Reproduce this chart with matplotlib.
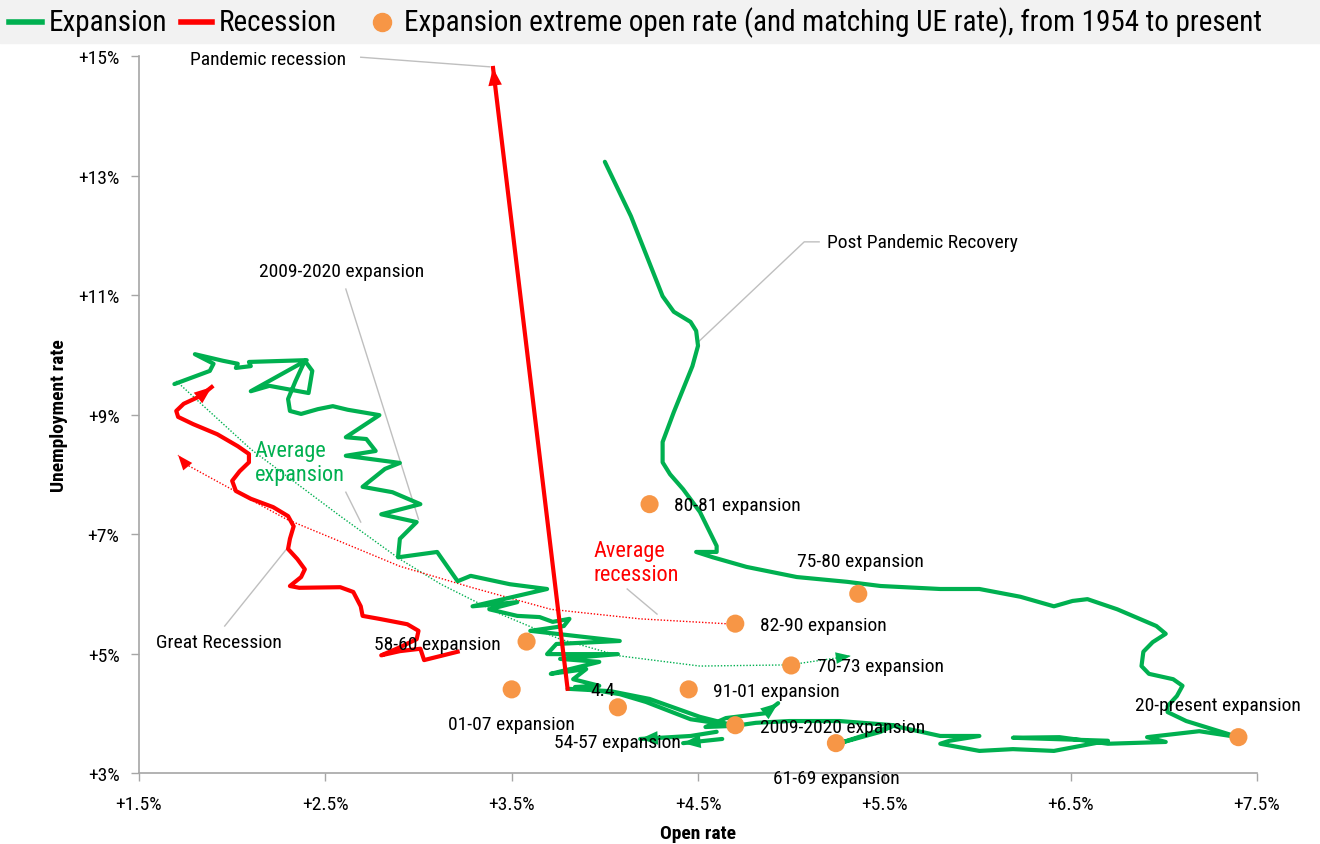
import matplotlib
matplotlib.use("Agg")
import matplotlib.pyplot as plt
from matplotlib import font_manager
from matplotlib.lines import Line2D
from matplotlib.patches import Rectangle


def pick_font(cands):
    for c in cands:
        try:
            font_manager.findfont(font_manager.FontProperties(family=c), fallback_to_default=False)
            return c
        except Exception:
            pass
    return 'DejaVu Sans'


FONT = pick_font(['Roboto Condensed', 'Liberation Sans Narrow', 'Archivo Narrow',
                  'PT Sans Narrow', 'Fira Sans Condensed', 'IBM Plex Sans Condensed',
                  'Barlow Semi Condensed'])
plt.rcParams['font.family'] = [FONT, 'DejaVu Sans']

GREEN = '#00B050'
RED = '#FF0000'
ORANGE = '#F79646'
GREY = '#A6A6A6'

# 2009-2020 expansion (open rate, unemployment rate)
exp09_open = [1.69, 1.88, 1.90, 1.80, 1.95, 2.03, 2.02, 2.10, 2.09, 2.40, 2.10, 2.20,
              2.41, 2.43, 2.39, 2.34, 2.30, 2.31, 2.37, 2.46, 2.54, 2.62, 2.79, 2.61,
              2.72, 2.77, 2.61, 2.90, 2.82, 2.70, 2.86, 3.01, 2.80, 2.99, 2.90, 2.89,
              3.10, 3.21, 3.28, 3.49, 3.69, 3.29, 3.53, 3.38, 3.53, 3.65, 3.72, 3.81,
              3.78, 3.60, 3.74, 4.08, 3.74, 3.69, 4.07, 3.76, 3.97, 3.71, 3.90, 3.83,
              3.97, 3.84, 4.08, 4.22, 4.46, 4.70, 4.51, 4.24, 4.03, 3.80]
exp09_ue = [9.51, 9.73, 9.85, 10.01, 9.90, 9.85, 9.78, 9.81, 9.88, 9.91, 9.39, 9.48,
            9.36, 9.73, 9.90, 9.56, 9.26, 9.06, 9.01, 9.09, 9.14, 9.08, 8.99, 8.62,
            8.59, 8.39, 8.31, 8.19, 8.09, 7.79, 7.70, 7.50, 7.33, 7.20, 6.92, 6.61,
            6.70, 6.21, 6.30, 6.16, 6.08, 5.79, 5.86, 5.74, 5.63, 5.61, 5.53, 5.58,
            5.46, 5.38, 5.33, 5.21, 5.16, 4.99, 4.99, 4.91, 4.86, 4.66, 4.74, 4.57,
            4.46, 4.44, 4.32, 4.19, 3.90, 3.79, 3.94, 4.24, 4.37, 4.41]

# post pandemic recovery
post_open = [4.00, 4.14, 4.31, 4.37, 4.46, 4.49, 4.50, 4.47, 4.37, 4.31, 4.31, 4.35,
             4.42, 4.51, 4.60, 4.60, 4.49, 4.58, 4.76, 5.03, 5.30, 5.48, 5.80, 6.01,
             6.23, 6.41, 6.51, 6.59, 6.75, 6.96, 7.01, 6.94, 6.89, 6.88, 6.92, 7.05,
             7.10, 7.07, 7.02, 7.02, 7.12, 7.40,
             7.19, 6.91, 7.01, 6.70, 6.44, 6.19, 6.70, 6.41, 6.19, 6.01, 5.80, 5.85,
             6.01, 5.80, 5.55, 5.26, 5.48, 5.55, 5.26, 4.99, 4.81, 4.70, 4.54, 4.65,
             4.86, 4.93]
post_ue = [13.23, 12.32, 10.98, 10.72, 10.55, 10.40, 10.15, 9.81, 9.04, 8.54, 8.20, 8.00,
           7.75, 7.37, 6.80, 6.70, 6.70, 6.61, 6.45, 6.28, 6.20, 6.13, 6.08, 6.08,
           5.95, 5.79, 5.88, 5.91, 5.74, 5.46, 5.33, 5.19, 5.03, 4.79, 4.66, 4.57,
           4.46, 4.29, 4.12, 4.02, 3.87, 3.60,
           3.70, 3.60, 3.52, 3.49, 3.60, 3.59, 3.54, 3.37, 3.40, 3.37, 3.49, 3.54,
           3.62, 3.62, 3.79, 3.50, 3.69, 3.80, 3.87, 3.87, 3.84, 3.79, 3.77, 3.92,
           4.00, 4.17]

# short 54-57 strokes
exp54_open = [4.60, 4.46, 4.19]
exp54_ue = [3.69, 3.62, 3.57]
exp54b_open = [4.63, 4.42]
exp54b_ue = [3.57, 3.50]

# Great Recession
gr_open = [3.21, 3.03, 3.01, 2.90, 2.80, 2.89, 2.99, 3.00, 2.94, 2.79, 2.70, 2.69,
           2.65, 2.58, 2.36, 2.31, 2.37, 2.39, 2.35, 2.30, 2.31, 2.33, 2.30, 2.22,
           2.10, 2.02, 2.00, 2.04, 2.09, 2.09, 2.03, 1.92, 1.79, 1.71, 1.70, 1.74,
           1.83, 1.89]
gr_ue = [5.03, 4.89, 5.08, 5.04, 4.97, 5.09, 5.24, 5.38, 5.49, 5.58, 5.63, 5.79,
         6.03, 6.11, 6.10, 6.13, 6.28, 6.41, 6.58, 6.75, 6.92, 7.13, 7.30, 7.45,
         7.59, 7.72, 7.89, 8.05, 8.20, 8.34, 8.47, 8.67, 8.84, 8.96, 9.06, 9.18,
         9.31, 9.46]

# Pandemic recession
pr_open = [3.80, 3.40]
pr_ue = [4.41, 14.80]

# averages
avg_exp_open = [1.70, 2.10, 2.58, 2.90, 3.12, 3.44, 3.76, 4.08, 4.51, 4.99, 5.32]
avg_exp_ue = [9.56, 8.42, 7.30, 6.58, 6.16, 5.66, 5.24, 4.96, 4.79, 4.81, 4.96]
avg_rec_open = [4.70, 4.19, 3.71, 3.28, 2.90, 2.29, 1.75, 1.71]
avg_rec_ue = [5.49, 5.58, 5.74, 6.11, 6.46, 7.25, 8.17, 8.32]

# expansion extremes
dot_open = [4.24, 5.36, 4.70, 3.58, 5.00, 3.50, 4.45, 4.07, 4.70, 5.24, 7.40]
dot_ue = [7.50, 6.00, 5.50, 5.20, 4.80, 4.40, 4.40, 4.10, 3.80, 3.50, 3.60]

fig = plt.figure(figsize=(13.2, 8.45), dpi=100)
ax = fig.add_axes([0.1053, 0.0840, 0.9523 - 0.1053, 0.9325 - 0.0840])


def arrow_end(xs, ys, color, scale=14):
    ax.annotate('', xy=(xs[-1], ys[-1]), xytext=(xs[-2], ys[-2]),
                arrowprops=dict(arrowstyle='-|>,head_length=0.9,head_width=0.35',
                                color=color, lw=0, shrinkA=0, shrinkB=0,
                                mutation_scale=scale), zorder=4)


dots = (0, (1, 1.3))
ax.plot(avg_exp_open, avg_exp_ue, color=GREEN, ls=dots, lw=1.0, zorder=2)
arrow_end(avg_exp_open, avg_exp_ue, GREEN, 12)
ax.plot(avg_rec_open, avg_rec_ue, color=RED, ls=dots, lw=1.0, zorder=2)
arrow_end(avg_rec_open, avg_rec_ue, RED, 12)

for xs, ys in [(exp09_open, exp09_ue), (post_open, post_ue), (exp54_open, exp54_ue),
               (exp54b_open, exp54b_ue)]:
    ax.plot(xs, ys, color=GREEN, lw=3.0, solid_joinstyle='round', solid_capstyle='round', zorder=3)
arrow_end(post_open, post_ue, GREEN)
arrow_end(exp54_open, exp54_ue, GREEN)
arrow_end(exp54b_open, exp54b_ue, GREEN)

ax.plot(gr_open, gr_ue, color=RED, lw=3.0, solid_joinstyle='round', zorder=3)
arrow_end(gr_open, gr_ue, RED)
ax.plot(pr_open, pr_ue, color=RED, lw=3.0, zorder=3)
arrow_end(pr_open, pr_ue, RED)

ax.scatter(dot_open, dot_ue, s=170, color=ORANGE, edgecolors='none', zorder=5)

# leader lines
leaders = [([2.69, 3.38], [14.98, 14.82]),
           ([5.15, 5.07, 4.50], [11.89, 11.89, 10.21]),
           ([2.61, 3.00], [11.10, 7.25]),
           ([2.61, 2.69], [7.70, 7.20]),
           ([4.12, 4.28], [6.08, 5.66]),
           ([1.96, 2.30], [5.46, 6.78])]
for xs, ys in leaders:
    ax.plot(xs, ys, color='#BFBFBF', lw=1.0, zorder=1)

fs = 14
ax.text(2.61, 14.95, 'Pandemic recession', ha='right', va='center', fontsize=fs)
ax.text(5.19, 11.89, 'Post Pandemic Recovery', ha='left', va='center', fontsize=fs)
ax.text(2.59, 11.40, '2009-2020 expansion', ha='center', va='center', fontsize=fs)
ax.text(1.93, 5.19, 'Great Recession', ha='center', va='center', fontsize=fs)
ax.text(2.12, 8.20, 'Average\nexpansion', ha='left', va='center', fontsize=16,
        color=GREEN, linespacing=1.2)
ax.text(3.94, 6.53, 'Average\nrecession', ha='left', va='center', fontsize=16,
        color=RED, linespacing=1.2)

labels = [('80-81 expansion', 4.37, 7.49, 'left'),
          ('75-80 expansion', 5.37, 6.55, 'center'),
          ('82-90 expansion', 4.83, 5.48, 'left'),
          ('58-60 expansion', 3.44, 5.16, 'right'),
          ('70-73 expansion', 5.14, 4.79, 'left'),
          ('01-07 expansion', 3.50, 3.82, 'center'),
          ('91-01 expansion', 4.58, 4.37, 'left'),
          ('4.4', 3.99, 4.39, 'center'),
          ('54-57 expansion', 4.07, 3.52, 'center'),
          ('2009-2020 expansion', 4.83, 3.77, 'left'),
          ('61-69 expansion', 5.24, 2.92, 'center'),
          ('20-present expansion', 7.29, 4.14, 'center')]
for txt, x, y, ha in labels:
    ax.text(x, y, txt, ha=ha, va='center', fontsize=fs, zorder=6, clip_on=False)

ax.set_xlim(1.5, 7.5)
ax.set_ylim(3, 15)
ax.set_xticks([1.5, 2.5, 3.5, 4.5, 5.5, 6.5, 7.5])
ax.set_xticklabels(['+1.5%', '+2.5%', '+3.5%', '+4.5%', '+5.5%', '+6.5%', '+7.5%'])
ax.set_yticks([3, 5, 7, 9, 11, 13, 15])
ax.set_yticklabels(['+3%', '+5%', '+7%', '+9%', '+11%', '+13%', '+15%'])
ax.tick_params(axis='both', colors=GREY, labelcolor='black', labelsize=14, length=6, width=1)
ax.tick_params(axis='x', pad=10)
ax.tick_params(axis='y', pad=8)
for s in ['top', 'right']:
    ax.spines[s].set_visible(False)
for s in ['left', 'bottom']:
    ax.spines[s].set_color(GREY)
    ax.spines[s].set_linewidth(1.2)
ax.set_xlabel('Open rate', fontsize=14, fontweight='bold', labelpad=8)
ax.set_ylabel('Unemployment rate', fontsize=14, fontweight='bold', labelpad=7)

# legend band
fig.patches.append(Rectangle((0, 1 - 44 / 845), 1, 44 / 845, transform=fig.transFigure,
                             color='#F2F2F2', zorder=0))
ly = 1 - 23 / 845
fig.add_artist(Line2D([9 / 1320, 42 / 1320], [ly, ly], color=GREEN, lw=4))
fig.text(49 / 1320, ly, 'Expansion', va='center', fontsize=21)
fig.add_artist(Line2D([181 / 1320, 212 / 1320], [ly, ly], color=RED, lw=4))
fig.text(219 / 1320, ly, 'Recession', va='center', fontsize=21)
fig.add_artist(Line2D([382 / 1320], [ly], marker='o', markersize=13, color=ORANGE, lw=0))
fig.text(404 / 1320, ly, 'Expansion extreme open rate (and matching UE rate), from 1954 to present',
         va='center', fontsize=21)

fig.savefig('out.png', dpi=100)
